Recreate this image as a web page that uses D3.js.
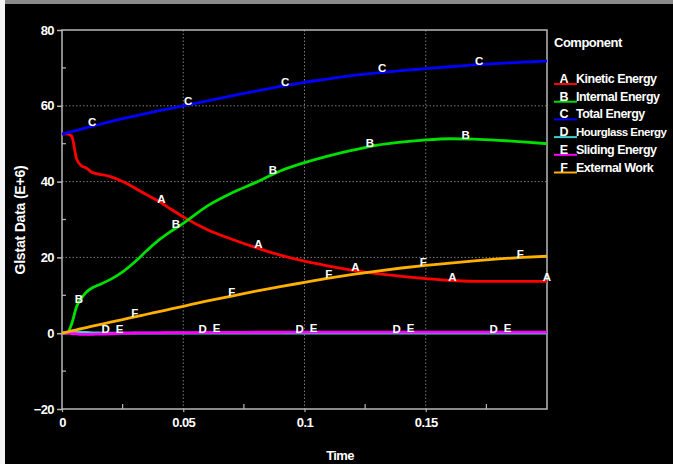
<!DOCTYPE html>
<html>
<head>
<meta charset="utf-8">
<script src="https://cdn.jsdelivr.net/npm/d3@7"></script>
<style>
  html, body { margin: 0; padding: 0; background: #000; }
  svg { display: block; }
  text { font-family: "Liberation Sans", Arial, sans-serif; font-weight: bold; fill: #fff; }
</style>
</head>
<body>
<svg id="chart" width="673" height="464"></svg>
<script>
// Simulation time samples (s)
const time = [0, 0.002, 0.004, 0.006, 0.008, 0.01, 0.0125, 0.015, 0.02, 0.025, 0.03, 0.035, 0.04, 0.045, 0.05,
              0.06, 0.07, 0.08, 0.09, 0.1, 0.11, 0.12, 0.13, 0.14, 0.15, 0.16, 0.17, 0.18, 0.19, 0.2];

// Energy components (E+6)
const kineticEnergy = [52.5, 52.6, 52.0, 46.0, 44.2, 43.6, 42.4, 42.0, 41.3, 40.0, 38.3, 36.5, 34.8, 32.7, 30.7,
                       27.3, 24.8, 22.6, 20.6, 19.0, 17.7, 16.6, 15.7, 15.0, 14.4, 13.9, 13.7, 13.7, 13.7, 13.7];
const internalEnergy = [0, 0, 2.5, 7.0, 9.2, 10.8, 12.0, 12.7, 14.2, 16.2, 18.8, 21.8, 24.6, 26.9, 29.0,
                        33.6, 37.0, 39.8, 42.8, 45.0, 46.8, 48.3, 49.6, 50.4, 51.0, 51.3, 51.2, 50.9, 50.5, 50.0];
const totalEnergy = [52.5, 52.85, 53.2, 53.5, 53.85, 54.2, 54.6, 55.0, 55.8, 56.6, 57.3, 58.0, 58.7, 59.35, 60.0,
                     61.3, 62.6, 63.9, 65.1, 66.2, 67.1, 68.0, 68.7, 69.3, 69.8, 70.3, 70.8, 71.2, 71.5, 71.8];
const hourglassEnergy = [0, 0.15, 0.4, 0.35, 0.3, 0.2, 0.1, 0.05, 0, 0, 0, 0, 0, 0, 0,
                         0, 0, 0, 0, 0, 0, 0, 0, 0, 0, 0, 0, 0, 0, 0];
const slidingEnergy = [0, 0, -0.1, -0.2, -0.3, -0.3, -0.3, -0.25, -0.15, 0, 0.05, 0.1, 0.1, 0.15, 0.15,
                       0.2, 0.2, 0.25, 0.25, 0.3, 0.3, 0.3, 0.3, 0.3, 0.3, 0.3, 0.3, 0.3, 0.3, 0.3];
const externalWork = [0, 0.3, 0.6, 0.9, 1.2, 1.5, 1.85, 2.2, 2.9, 3.6, 4.3, 5.0, 5.7, 6.4, 7.1,
                      8.5, 9.8, 11.1, 12.3, 13.4, 14.5, 15.5, 16.4, 17.2, 17.9, 18.5, 19.1, 19.6, 20.0, 20.3];

// Series metadata: id letter, legend name, colour, times at which the id letter is printed on the curve
const seriesIds = ["A", "B", "C", "D", "E", "F"];
const seriesNames = ["Kinetic Energy", "Internal Energy", "Total Energy", "Hourglass Energy", "Sliding Energy", "External Work"];
const seriesColors = ["#ff0000", "#00e000", "#0000ff", "#40d0d0", "#ff00ff", "#ffb000"];
const seriesValues = [kineticEnergy, internalEnergy, totalEnergy, hourglassEnergy, slidingEnergy, externalWork];
const markerTimes = [
  [0.041, 0.081, 0.121, 0.161, 0.2],
  [0.007, 0.047, 0.087, 0.127, 0.1665],
  [0.0124, 0.052, 0.092, 0.132, 0.172],
  [0.018, 0.058, 0.098, 0.138, 0.178],
  [0.0237, 0.0637, 0.1037, 0.1437, 0.1837],
  [0.030, 0.070, 0.110, 0.149, 0.189]
];

// Axis ticks
const xMajorTicks = [0, 0.05, 0.1, 0.15];
const xTickLabels = ["0", "0.05", "0.1", "0.15"];
const xMinorTicks = [0.025, 0.075, 0.125, 0.175];
const yMajorTicks = [80, 60, 40, 20, 0, -20];
const yMinorTicks = [70, 50, 30, 10, -10];

const svg = d3.select("#chart");
const W = 673, H = 464;
const plot = { left: 62, right: 547, top: 30, bottom: 409 };

svg.append("rect").attr("width", W).attr("height", H).attr("fill", "#000");
// Window edge strips
svg.append("rect").attr("x", 0).attr("y", 0).attr("width", W).attr("height", 4).attr("fill", "#8a8a8a");
svg.append("rect").attr("x", 0).attr("y", 0).attr("width", 5).attr("height", H).attr("fill", "#f4f4f4");

const x = d3.scaleLinear().domain([0, 0.2]).range([plot.left, plot.right]);
const y = d3.scaleLinear().domain([-20, 80]).range([plot.bottom, plot.top]);

const frameColor = "#b8b8b8";
const gridColor = "#7a7a7a";

// Dotted grid
const grid = svg.append("g");
grid.selectAll(".gy").data(yMajorTicks.filter(v => v !== 80 && v !== -20)).join("line")
  .attr("x1", plot.left).attr("x2", plot.right)
  .attr("y1", d => y(d)).attr("y2", d => y(d))
  .attr("stroke", gridColor).attr("stroke-width", 1).attr("stroke-dasharray", "1.5,2");
grid.selectAll(".gx").data(xMajorTicks.filter(v => v !== 0)).join("line")
  .attr("x1", d => x(d)).attr("x2", d => x(d))
  .attr("y1", plot.top).attr("y2", plot.bottom)
  .attr("stroke", gridColor).attr("stroke-width", 1).attr("stroke-dasharray", "1.5,2");

// Frame
svg.append("rect")
  .attr("x", plot.left).attr("y", plot.top)
  .attr("width", plot.right - plot.left).attr("height", plot.bottom - plot.top)
  .attr("fill", "none").attr("stroke", frameColor).attr("stroke-width", 1.5);

const tickFont = sel => sel.attr("fill", "#fff").style("font-size", "13px").style("font-weight", "bold")
  .style("font-family", "'Liberation Sans', Arial, sans-serif").style("letter-spacing", "-0.6px");

// Y axis
const yAxis = d3.axisLeft(y).tickValues(yMajorTicks).tickSize(5).tickPadding(3).tickFormat(d3.format("d"));
const gy = svg.append("g").attr("transform", `translate(${plot.left},0)`).call(yAxis);
gy.select(".domain").remove();
gy.selectAll(".tick line").attr("stroke", frameColor).attr("stroke-width", 1.5);
gy.selectAll(".tick text").call(tickFont);
svg.append("g").selectAll("line").data(yMinorTicks).join("line")
  .attr("x1", plot.left).attr("x2", plot.left + 4)
  .attr("y1", d => y(d)).attr("y2", d => y(d))
  .attr("stroke", frameColor).attr("stroke-width", 1.2);

// X axis
const xAxis = d3.axisBottom(x).tickValues(xMajorTicks).tickSize(3).tickPadding(6)
  .tickFormat((d, i) => xTickLabels[i]);
const gx = svg.append("g").attr("transform", `translate(0,${plot.bottom})`).call(xAxis);
gx.select(".domain").remove();
gx.selectAll(".tick line").attr("stroke", frameColor).attr("stroke-width", 1.2);
gx.selectAll(".tick text").call(tickFont);
svg.append("g").selectAll("line").data(xMinorTicks).join("line")
  .attr("x1", d => x(d)).attr("x2", d => x(d))
  .attr("y1", plot.bottom).attr("y2", plot.bottom - 5)
  .attr("stroke", frameColor).attr("stroke-width", 1.2);

// Axis titles
svg.append("text").attr("x", 340).attr("y", 460).attr("text-anchor", "middle")
  .style("font-size", "13px").style("letter-spacing", "-0.6px").text("Time");
svg.append("text").attr("transform", "translate(25,220) rotate(-90)").attr("text-anchor", "middle")
  .style("font-size", "14px").style("letter-spacing", "-0.2px").text("Glstat Data (E+6)");

// Curves
const line = d3.line().x(d => x(d[0])).y(d => y(d[1])).curve(d3.curveMonotoneX);
const curves = svg.append("g");
seriesValues.forEach((vals, i) => {
  const pts = time.map((t, k) => [t, vals[k]]);
  curves.append("path").datum(pts)
    .attr("d", line)
    .attr("fill", "none")
    .attr("stroke", seriesColors[i])
    .attr("stroke-width", 2.8)
    .attr("stroke-linejoin", "round");
});

// Id letters along each curve
function valueAt(vals, t) {
  const k = Math.max(1, d3.bisectLeft(time, t));
  const t0 = time[k - 1], t1 = time[Math.min(k, time.length - 1)];
  const v0 = vals[k - 1], v1 = vals[Math.min(k, time.length - 1)];
  return t1 === t0 ? v0 : v0 + (v1 - v0) * (t - t0) / (t1 - t0);
}
const markers = svg.append("g");
seriesValues.forEach((vals, i) => {
  markers.selectAll(null).data(markerTimes[i]).join("text")
    .attr("x", t => x(t))
    .attr("y", t => y(valueAt(vals, t)) - 3)
    .attr("text-anchor", "middle")
    .attr("dominant-baseline", "middle")
    .style("font-size", "11.5px")
    .text(seriesIds[i]);
});

// Legend
const legend = svg.append("g");
legend.append("text").attr("x", 554).attr("y", 47).style("font-size", "13px")
  .style("letter-spacing", "-0.5px").text("Component");
const rows = legend.selectAll(".row").data(seriesIds).join("g")
  .attr("transform", (d, i) => `translate(0,${84 + i * 17.7})`);
rows.append("line").attr("x1", 554).attr("x2", 577).attr("y1", 0).attr("y2", 0)
  .attr("stroke", (d, i) => seriesColors[i]).attr("stroke-width", 2);
rows.append("text").attr("x", 564).attr("y", -1).attr("text-anchor", "middle")
  .style("font-size", "12.5px").text(d => d);
const names = rows.append("text").attr("x", 576).attr("y", -1)
  .style("font-size", "12.5px").style("letter-spacing", "-0.5px")
  .text((d, i) => seriesNames[i]);
// Use a smaller size for any name that would run too close to the right edge
names.each(function () {
  const maxW = W - 576 - 6;
  const len = this.getComputedTextLength();
  if (len > maxW) {
    d3.select(this).style("font-size", (12.5 * maxW / len).toFixed(2) + "px");
  }
});
</script>
</body>
</html>
